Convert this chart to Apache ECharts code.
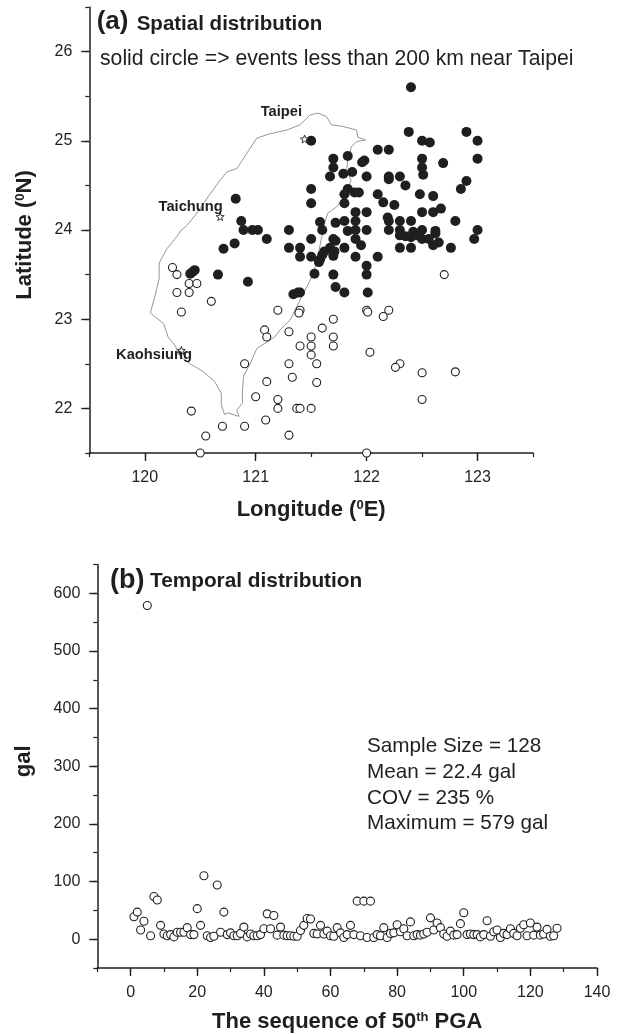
<!DOCTYPE html>
<html><head><meta charset="utf-8">
<style>html,body{margin:0;padding:0;background:#fff}#c{width:619px;height:1034px}</style>
<script src="https://cdn.jsdelivr.net/npm/echarts@6/dist/echarts.min.js"></script>
</head><body><div id="c"></div>
<script>
// longitude, latitude pairs
const nearEvents = [
[122.4,25.6],[122.38,25.1],[122.5,25.0],[122.57,24.98],[122.9,25.1],[123,25],[123,24.8],[121.5,25.0],[122.1,24.9],[122.2,24.9],
[121.7,24.8],[121.83,24.83],[121.98,24.78],[121.96,24.76],[122.5,24.8],[122.5,24.7],[122.69,24.75],[121.7,24.7],[121.67,24.6],[121.79,24.63],
[121.87,24.65],[122,24.6],[122.2,24.6],[122.2,24.57],[122.3,24.6],[122.51,24.62],[122.35,24.5],[122.9,24.55],[122.85,24.46],[121.5,24.46],
[121.83,24.46],[121.8,24.4],[121.89,24.42],[121.93,24.42],[122.1,24.4],[122.48,24.4],[122.6,24.38],[121.8,24.3],[121.5,24.3],[122.15,24.31],
[122.25,24.28],[120.82,24.35],[122.5,24.2],[122.6,24.2],[122.67,24.24],[121.9,24.2],[122,24.2],[122.19,24.14],[122.2,24.1],[122.3,24.1],
[122.4,24.1],[122.8,24.1],[121.58,24.09],[121.72,24.08],[121.8,24.1],[121.9,24.1],[120.87,24.1],[120.89,24.0],[120.97,24.0],[121.02,24.0],
[121.3,24.0],[121.6,24.0],[121.83,23.99],[121.9,24],[122,24],[122.2,24],[122.3,24],[122.5,24],[122.42,23.98],[122.62,23.99],
[123,24],[122.97,23.9],[121.1,23.9],[121.5,23.9],[121.7,23.9],[121.9,23.9],[120.81,23.85],[120.71,23.79],[121.3,23.8],[121.4,23.8],
[121.4,23.7],[121.5,23.7],[121.72,23.88],[121.67,23.8],[121.62,23.76],[121.6,23.72],[121.58,23.67],[121.57,23.64],[121.71,23.76],[121.7,23.71],
[121.8,23.8],[121.95,23.83],[121.9,23.7],[122.1,23.7],[122,23.6],[122,23.5],[121.53,23.51],[121.7,23.5],[121.72,23.36],[121.8,23.3],
[122.01,23.3],[121.34,23.28],[121.38,23.3],[121.4,23.3],[120.93,23.42],[120.66,23.5],[120.41,23.51],[120.43,23.53],[120.45,23.55],[122.3,23.8],
[122.4,23.8],[122.6,23.83],[122.65,23.86],[122.76,23.8],[122.3,23.94],[122.35,23.93],[122.4,23.92],[122.46,23.94],[122.5,23.9],[122.56,23.9],[122.62,23.96]
];
const farEvents = [
[120.25,23.58],[120.29,23.5],[120.4,23.4],[120.47,23.4],[120.29,23.3],[120.4,23.3],[120.6,23.2],[120.33,23.08],[121.2,23.1],[121.4,23.1],
[121.39,23.07],[121.7,23],[121.6,22.9],[121.08,22.88],[121.1,22.8],[121.3,22.86],[121.5,22.8],[121.7,22.8],[121.5,22.7],[121.4,22.7],
[121.7,22.7],[121.5,22.6],[121.55,22.5],[121.3,22.5],[120.9,22.5],[121.33,22.35],[121.1,22.3],[121.55,22.29],[121.0,22.13],[121.2,22.1],
[121.2,22],[121.37,22],[121.4,22],[121.5,22],[120.42,21.97],[120.7,21.8],[120.9,21.8],[121.09,21.87],[121.3,21.7],[120.55,21.69],
[120.5,21.5],[122,21.5],[122,23.1],[122.01,23.08],[122.2,23.1],[122.15,23.03],[122.03,22.63],[122.3,22.5],[122.26,22.46],[122.5,22.4],
[122.8,22.41],[122.5,22.1],[122.7,23.5]
];
const coastline = [
[121.99,25.01],[121.91,24.99],[121.86,24.93],[121.85,24.86],[121.83,24.78],[121.82,24.67],[121.86,24.56],[121.83,24.45],[121.80,24.37],[121.73,24.26],
[121.65,24.19],[121.62,24.07],[121.59,23.89],[121.56,23.70],[121.52,23.51],[121.46,23.36],[121.37,23.14],[121.31,22.99],[121.22,22.88],[121.17,22.80],
[121.01,22.67],[120.95,22.50],[120.89,22.36],[120.88,22.17],[120.88,22.06],[120.83,21.98],[120.85,21.91],[120.75,21.95],[120.72,21.93],[120.69,22.04],
[120.69,22.17],[120.63,22.30],[120.53,22.41],[120.41,22.50],[120.32,22.58],[120.27,22.71],[120.21,22.80],[120.17,22.95],[120.05,23.07],[120.09,23.25],
[120.13,23.46],[120.13,23.63],[120.20,23.79],[120.29,23.93],[120.33,24.0],[120.38,24.05],[120.47,24.19],[120.57,24.37],[120.68,24.56],[120.74,24.65],
[120.83,24.69],[120.92,24.86],[121.01,25.03],[121.13,25.08],[121.28,25.12],[121.40,25.18],[121.49,25.29],[121.56,25.31],[121.64,25.27],[121.68,25.18],
[121.79,25.16],[121.91,25.12],[121.92,25.04],[121.99,25.01]
];
const cityNames = ["Taipei","Taichung","Kaohsiung"];
const cityLon = [121.44,120.68,120.33];
const cityLat = [25.02,24.15,22.65];
// gal of the 50th PGA, sequence 1..128
const pga = [39,47,16,31,579,6,74,68,24,9,6,8,4,12,12,12,20,8,8,53,24,110,6,3,5,94,12,47,8,11,6,6,10,21,4,9,6,6,8,18,44,18,41,7,21,7,6,6,5,5,15,24,36,35,10,9,24,9,14,6,5,20,11,3,8,24,8,66,6,66,3,66,3,8,6,20,3,10,11,25,13,18,6,30,6,8,7,9,12,37,16,28,20,9,5,14,7,8,27,46,8,9,8,8,4,8,32,5,13,16,3,10,8,18,10,6,19,25,6,28,7,21,7,9,17,5,6,19];
const lonTicks = [120,121,122,123];
const latTicks = [22,23,24,25,26];
const seqTicks = [0,20,40,60,80,100,120,140];
const galTicks = [0,100,200,300,400,500,600];

const FONT = '"Liberation Sans", Arial, sans-serif';
const INK = '#1f1f1f';
const rich = {t:{fontFamily:FONT,fontSize:22,fontWeight:'bold',color:INK,verticalAlign:'bottom'},
              s:{fontFamily:FONT,fontSize:13,fontWeight:'bold',color:INK,verticalAlign:'top'}};
function mainAxis(min,max,ticks,name,gap,idx,extraPad,minorInterval){
  return {type:'value',gridIndex:idx,min,max,interval:minorInterval,scale:true,name,nameLocation:'middle',nameGap:gap,
    nameTextStyle:{rich,padding:extraPad},
    axisLine:{show:true,onZero:false,lineStyle:{color:INK,width:1.5}},splitLine:{show:false},
    axisTick:{show:true,length:4,lineStyle:{color:INK,width:1.2}},
    axisLabel:{show:true,customValues:ticks,margin:17,fontFamily:FONT,fontSize:16,color:INK,hideOverlap:false,showMinLabel:true,showMaxLabel:true}};
}
function majorAxis(min,max,ticks,idx,pos){
  return {type:'value',gridIndex:idx,min,max,scale:true,position:pos,
    axisLine:{show:false,onZero:false},splitLine:{show:false},axisLabel:{show:false},
    axisTick:{show:true,customValues:ticks,length:8,lineStyle:{color:INK,width:1.4}}};
}
function txt(x,y,text,size,weight){
  return {type:'text',left:x,top:y,silent:true,style:{text,fontFamily:FONT,fontSize:size,fontWeight:weight||'normal',fill:INK}};
}
const openStyle = {color:'#fff',borderColor:INK,borderWidth:1.1,opacity:1};
const option = {
  animation:false,backgroundColor:'#fff',
  grid:[{left:89.3,top:7,width:443.7,height:446},{left:97.3,top:564.6,width:499.7,height:403.7}],
  xAxis:[
    mainAxis(119.5,123.5,lonTicks,'{t|Longitude (}{s|0}{t|E)}',46,0,undefined,0.5),
    mainAxis(-10,140,seqTicks,'{t|The sequence of 50}{s|th}{t| PGA}',43,1,undefined,10),
    majorAxis(119.5,123.5,lonTicks,0,'bottom'),
    majorAxis(-10,140,seqTicks,1,'bottom')
  ],
  yAxis:[
    mainAxis(21.5,26.5,latTicks,'{t|Latitude (}{s|0}{t|N)}',53,0,[0,10,0,0],0.5),
    mainAxis(-50,650,galTicks,'{t|gal}',62,1,[0,0,0,10],50),
    majorAxis(21.5,26.5,latTicks,0,'left'),
    majorAxis(-50,650,galTicks,1,'left')
  ],
  series:[
    {type:'line',xAxisIndex:0,yAxisIndex:0,data:coastline,symbol:'none',smooth:false,lineStyle:{color:'#979797',width:1},z:1,silent:true},
    {type:'scatter',name:'far',xAxisIndex:0,yAxisIndex:0,data:farEvents,symbol:'circle',symbolSize:8,clip:true,itemStyle:openStyle,z:2},
    {type:'scatter',name:'near',xAxisIndex:0,yAxisIndex:0,data:nearEvents,symbol:'circle',symbolSize:10,clip:true,itemStyle:{color:INK,opacity:1},z:3},
    {type:'scatter',name:'cities',xAxisIndex:0,yAxisIndex:0,z:4,
      symbol:'path://M50 0 L62 35 L100 38 L70 60 L80 97 L50 76 L20 97 L30 60 L0 38 L38 35 Z',symbolSize:8,
      itemStyle:{color:'#fff',borderColor:INK,borderWidth:0.9,opacity:1},
      data:cityNames.map((n,i)=>{
        const off=[[4,-27.5],[9,-9.5],[17,5]][i];
        return {name:n,value:[cityLon[i],cityLat[i]],
          label:{show:true,position:'left',offset:off,distance:2,formatter:'{b}',fontFamily:FONT,fontSize:14.7,fontWeight:'bold',color:INK}};
      })},
    {type:'scatter',name:'pga',xAxisIndex:1,yAxisIndex:1,data:pga.map((v,i)=>[i+1,v]),symbol:'circle',symbolSize:8,clip:true,itemStyle:openStyle,z:2}
  ],
  graphic:[
    txt(96.7,8.8,'(a)',26,'bold'),
    txt(136.7,13.4,'Spatial distribution',20.5,'bold'),
    txt(100,49,'solid circle => events less than 200 km near Taipei',21.2),
    txt(110,567.4,'(b)',27,'bold'),
    txt(150,571,'Temporal distribution',20.8,'bold'),
    txt(367,736,'Sample Size = 128',20.7),
    txt(367,762,'Mean = 22.4 gal',20.7),
    txt(367,788,'COV = 235 %',20.7),
    txt(367,813,'Maximum = 579 gal',20.7)
  ]
};
echarts.init(document.getElementById('c'),null,{renderer:'canvas'}).setOption(option);
</script></body></html>
